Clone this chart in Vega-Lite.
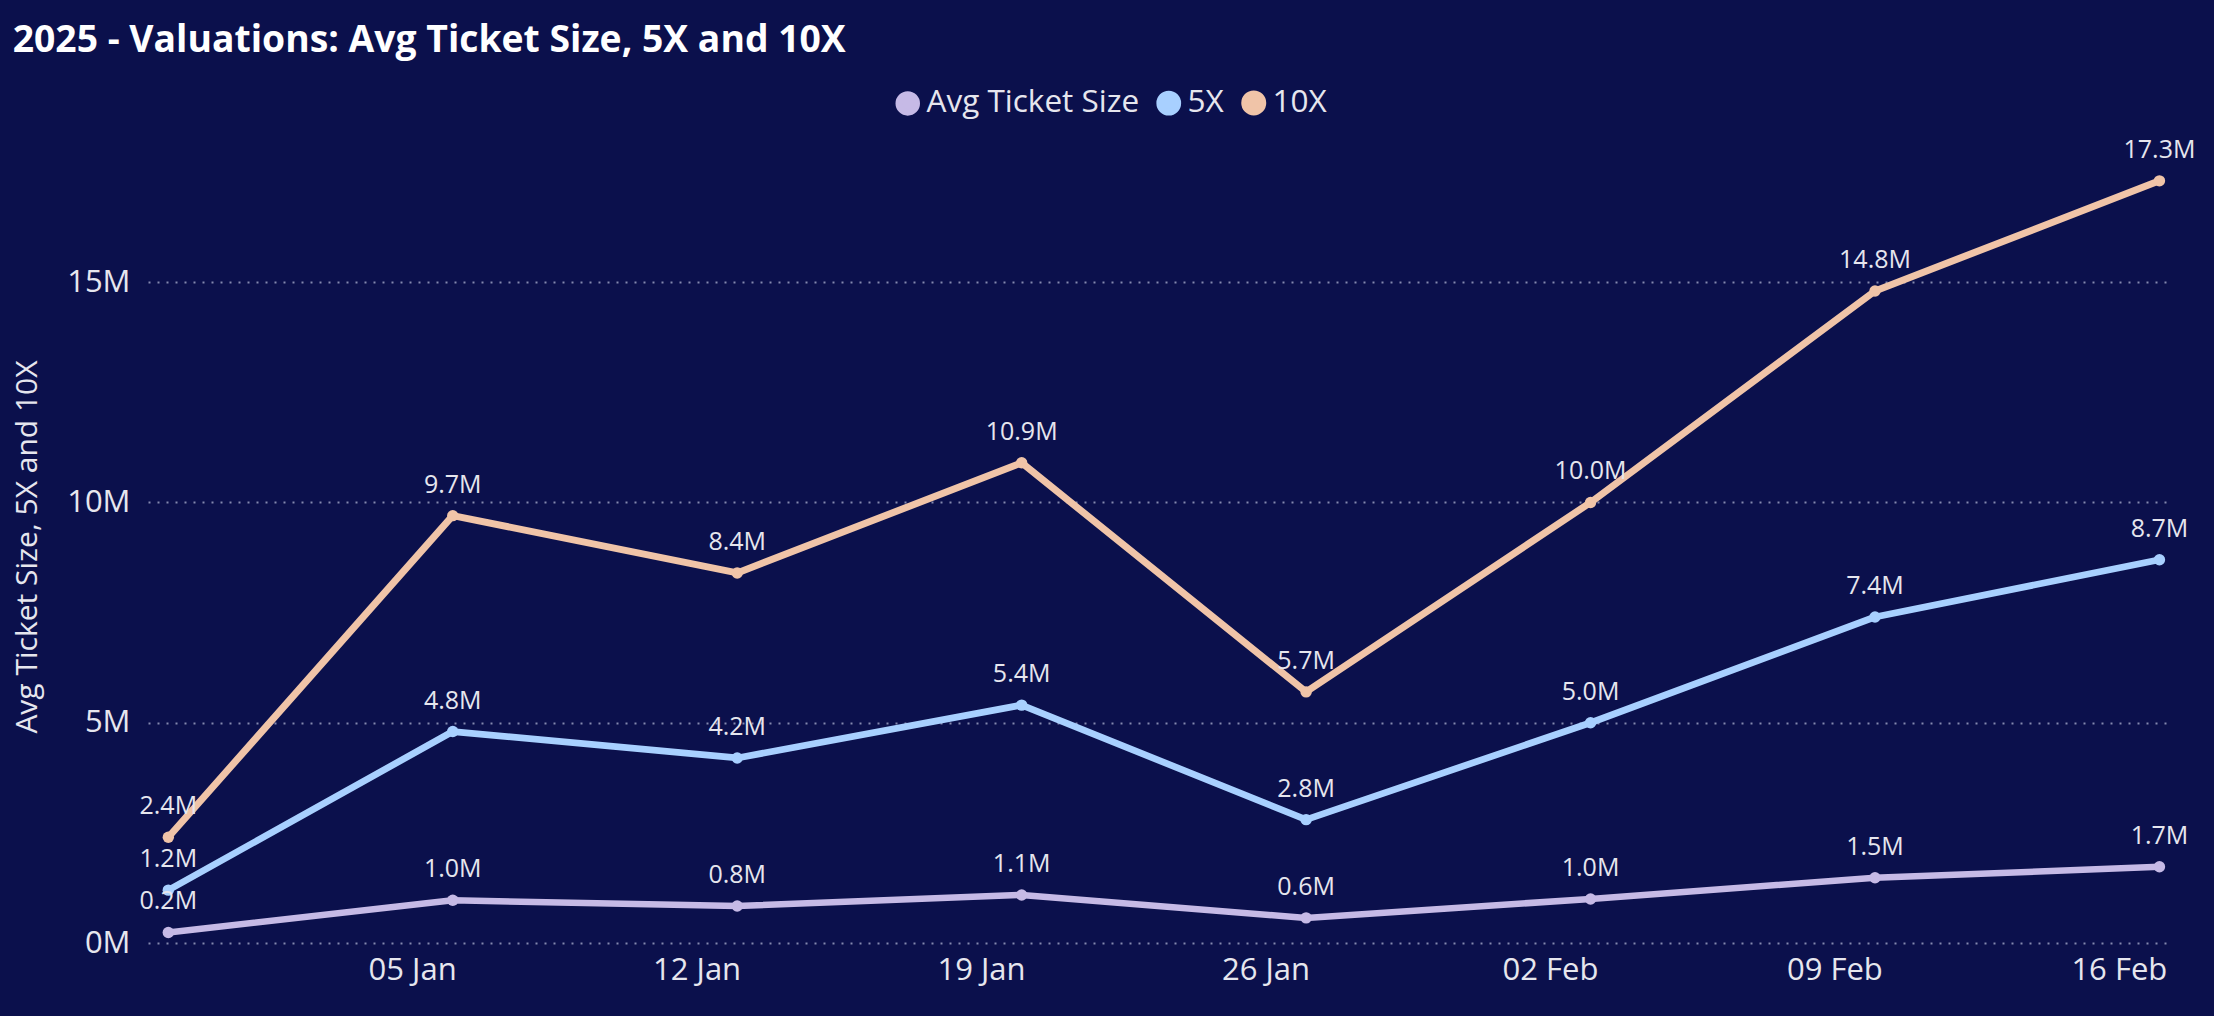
{
  "$schema": "https://vega.github.io/schema/vega-lite/v6.json",
  "autosize": "none",
  "width": 2025,
  "height": 793,
  "padding": {"left": 148, "top": 150, "right": 41, "bottom": 73},
  "background": "#0B104C",
  "config": {"view": {"stroke": null}},
  "title": {
    "text": "2025 - Valuations: Avg Ticket Size, 5X and 10X",
    "anchor": "start",
    "frame": "bounds",
    "font": "Open Sans",
    "fontSize": 37.3,
    "fontWeight": "bold",
    "color": "#FFFFFF",
    "offset": 27
  },
  "data": {
    "values": [
      {"week": "2024-12-30", "series": "Avg Ticket Size", "value": 0.24},
      {"week": "2025-01-06", "series": "Avg Ticket Size", "value": 0.97},
      {"week": "2025-01-13", "series": "Avg Ticket Size", "value": 0.84},
      {"week": "2025-01-20", "series": "Avg Ticket Size", "value": 1.09},
      {"week": "2025-01-27", "series": "Avg Ticket Size", "value": 0.57},
      {"week": "2025-02-03", "series": "Avg Ticket Size", "value": 1.0},
      {"week": "2025-02-10", "series": "Avg Ticket Size", "value": 1.48},
      {"week": "2025-02-17", "series": "Avg Ticket Size", "value": 1.73},
      {"week": "2024-12-30", "series": "5X", "value": 1.2},
      {"week": "2025-01-06", "series": "5X", "value": 4.8},
      {"week": "2025-01-13", "series": "5X", "value": 4.2},
      {"week": "2025-01-20", "series": "5X", "value": 5.4},
      {"week": "2025-01-27", "series": "5X", "value": 2.8},
      {"week": "2025-02-03", "series": "5X", "value": 5.0},
      {"week": "2025-02-10", "series": "5X", "value": 7.4},
      {"week": "2025-02-17", "series": "5X", "value": 8.7},
      {"week": "2024-12-30", "series": "10X", "value": 2.4},
      {"week": "2025-01-06", "series": "10X", "value": 9.7},
      {"week": "2025-01-13", "series": "10X", "value": 8.4},
      {"week": "2025-01-20", "series": "10X", "value": 10.9},
      {"week": "2025-01-27", "series": "10X", "value": 5.7},
      {"week": "2025-02-03", "series": "10X", "value": 10.0},
      {"week": "2025-02-10", "series": "10X", "value": 14.8},
      {"week": "2025-02-17", "series": "10X", "value": 17.3}
    ]
  },
  "encoding": {
    "x": {
      "field": "week",
      "type": "temporal",
      "title": null,
      "scale": {
        "type": "utc",
        "domain": [
          {"year": 2024, "month": 12, "date": 29, "hours": 12, "utc": true},
          {"year": 2025, "month": 2, "date": 17, "hours": 8, "utc": true}
        ]
      },
      "axis": {
        "values": [
          {"year": 2025, "month": 1, "date": 5, "utc": true},
          {"year": 2025, "month": 1, "date": 12, "utc": true},
          {"year": 2025, "month": 1, "date": 19, "utc": true},
          {"year": 2025, "month": 1, "date": 26, "utc": true},
          {"year": 2025, "month": 2, "date": 2, "utc": true},
          {"year": 2025, "month": 2, "date": 9, "utc": true},
          {"year": 2025, "month": 2, "date": 16, "utc": true}
        ],
        "format": "%d %b",
        "grid": false,
        "domain": false,
        "ticks": false,
        "tickSize": 0,
        "labelPadding": 12,
        "labelFontSize": 31,
        "labelFont": "Open Sans",
        "labelColor": "#E6E6EE",
        "labelFlush": false,
        "labelOverlap": false
      }
    },
    "y": {
      "field": "value",
      "type": "quantitative",
      "title": "Avg Ticket Size, 5X and 10X",
      "scale": {"domain": [0, 18], "nice": false},
      "axis": {
        "values": [0, 5, 10, 15],
        "labelExpr": "datum.value + 'M'",
        "domain": false,
        "ticks": false,
        "tickSize": 0,
        "labelPadding": 18,
        "labelFontSize": 31,
        "labelFont": "Open Sans",
        "labelColor": "#E6E6EE",
        "grid": true,
        "gridColor": "#A3A7C8",
        "gridDash": [2, 7],
        "gridWidth": 1.8,
        "gridOpacity": 0.8,
        "titleFont": "Open Sans",
        "titleFontSize": 30,
        "titleFontWeight": "normal",
        "titleColor": "#E6E6EE",
        "titlePadding": 24
      }
    },
    "color": {
      "field": "series",
      "type": "nominal",
      "scale": {
        "domain": ["Avg Ticket Size", "5X", "10X"],
        "range": ["#C6BAE6", "#A8D0FF", "#F0C4A8"]
      },
      "legend": {
        "title": null,
        "orient": "none",
        "direction": "horizontal",
        "legendX": 744,
        "legendY": -63,
        "symbolType": "circle",
        "symbolSize": 324,
        "symbolOpacity": 1,
        "symbolStrokeWidth": 0,
        "labelFont": "Open Sans",
        "labelFontSize": 31.5,
        "labelColor": "#E6E6EE",
        "labelOffset": 3,
        "columnPadding": 6,
        "labelLimit": 400
      }
    }
  },
  "layer": [
    {
      "mark": {"type": "line", "strokeCap": "round", "strokeJoin": "round"},
      "encoding": {
        "strokeWidth": {
          "field": "series",
          "type": "nominal",
          "scale": {"domain": ["Avg Ticket Size", "5X", "10X"], "range": [6.5, 7, 5.5]},
          "legend": null
        }
      }
    },
    {
      "mark": {"type": "point", "filled": true, "opacity": 1, "size": 130}
    },
    {
      "mark": {
        "type": "text",
        "font": "Open Sans",
        "fontSize": 25,
        "baseline": "alphabetic",
        "align": "center",
        "dy": -23,
        "text": {"expr": "format(datum.value, '.1f') + 'M'"}
      },
      "encoding": {
        "color": {"value": "#E6E6EE"}
      }
    }
  ]
}
